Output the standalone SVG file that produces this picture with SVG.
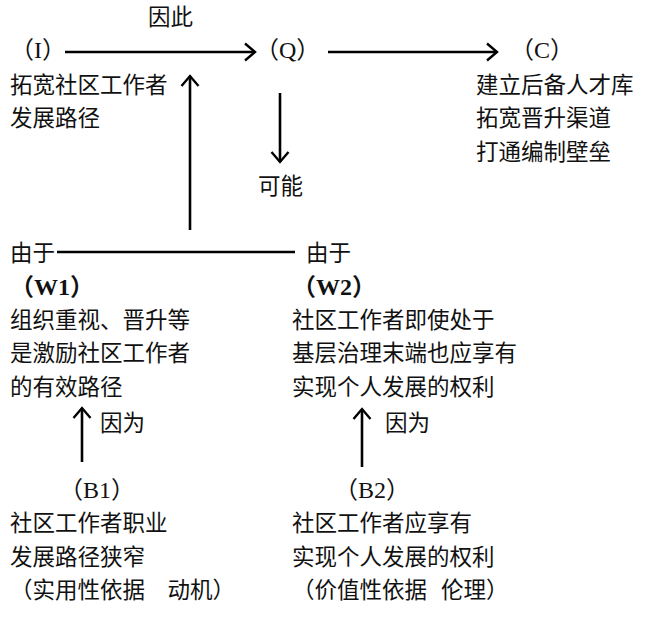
<svg xmlns="http://www.w3.org/2000/svg" width="645" height="622" viewBox="0 0 645 622">
<style>
.t{font-family:"Noto Sans CJK SC","Noto Sans CJK JP",sans-serif;font-size:22.5px;fill:#111;}
.l{font-family:"Liberation Serif","Noto Sans CJK SC",serif;font-size:24px;fill:#111;}
.b{font-weight:bold;}
.c{stroke:#000;stroke-width:2.6;fill:none;}
</style>
<defs>
<marker id="ah" markerUnits="userSpaceOnUse" viewBox="-12 -10 14 20" refX="0" refY="0" markerWidth="14" markerHeight="20" orient="auto">
<path d="M-10,-8.5 L0,0 L-10,8.5" fill="none" stroke="#000" stroke-width="2.4"/>
</marker>
</defs>
<rect width="645" height="622" fill="#fff"/>
<g id="connectors">
<line class="c" x1="65" y1="52" x2="255" y2="52" marker-end="url(#ah)"/>
<line class="c" x1="328" y1="52" x2="497" y2="52" marker-end="url(#ah)"/>
<line class="c" x1="280" y1="93" x2="280" y2="162" marker-end="url(#ah)"/>
<line class="c" x1="190" y1="230" x2="190" y2="76" marker-end="url(#ah)"/>
<line class="c" x1="57" y1="252" x2="295" y2="252"/>
<line class="c" x1="82" y1="462" x2="82" y2="408" marker-end="url(#ah)"/>
<line class="c" x1="362" y1="467" x2="362" y2="409" marker-end="url(#ah)"/>
<text class="t" x="148" y="25">因此</text>
<text class="t" x="258" y="194">可能</text>
<text class="t" x="10" y="261">由于</text>
<text class="t" x="306" y="261">由于</text>
<text class="t" x="100" y="431">因为</text>
<text class="t" x="385" y="431">因为</text>
</g>
<g id="node-I">
<text class="l" x="10" y="58">（I）</text>
<text class="t" x="10" y="93">拓宽社区工作者</text>
<text class="t" x="10" y="126">发展路径</text>
</g>
<g id="node-Q">
<text class="l" x="255" y="58">（Q）</text>
</g>
<g id="node-C">
<text class="l" x="510" y="58">（C）</text>
<text class="t" x="476" y="93">建立后备人才库</text>
<text class="t" x="476" y="126">拓宽晋升渠道</text>
<text class="t" x="476" y="160">打通编制壁垒</text>
</g>
<g id="node-W1">
<text class="l b" x="10" y="295">（W1）</text>
<text class="t" x="10" y="328">组织重视、晋升等</text>
<text class="t" x="10" y="361">是激励社区工作者</text>
<text class="t" x="10" y="395">的有效路径</text>
</g>
<g id="node-W2">
<text class="l b" x="292" y="295">（W2）</text>
<text class="t" x="292" y="328">社区工作者即使处于</text>
<text class="t" x="292" y="361">基层治理末端也应享有</text>
<text class="t" x="292" y="395">实现个人发展的权利</text>
</g>
<g id="node-B1">
<text class="l" x="59" y="498">（B1）</text>
<text class="t" x="10" y="531">社区工作者职业</text>
<text class="t" x="10" y="565">发展路径狭窄</text>
<text class="t" x="10" y="598">（实用性依据　动机）</text>
</g>
<g id="node-B2">
<text class="l" x="334" y="498">（B2）</text>
<text class="t" x="292" y="531">社区工作者应享有</text>
<text class="t" x="292" y="565">实现个人发展的权利</text>
<text class="t" x="292" y="598">（价值性依据 <tspan x="441">伦理）</tspan></text>
</g>
</svg>
